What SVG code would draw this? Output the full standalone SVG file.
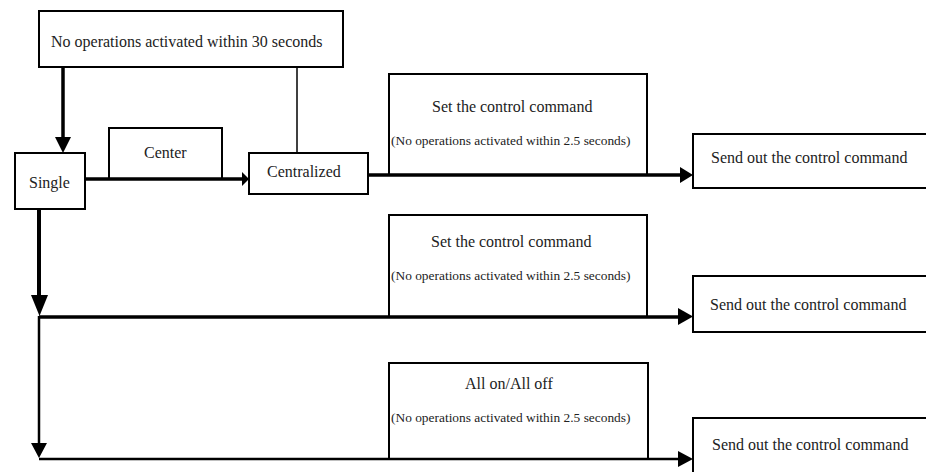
<svg xmlns="http://www.w3.org/2000/svg" width="926" height="472" viewBox="0 0 926 472">
<style>
.box{fill:#fff;stroke:#000;stroke-width:2}
.open{fill:none;stroke:#000;stroke-width:2}
text{font-family:'Liberation Serif','DejaVu Serif','Noto Serif',serif;fill:#222}
.t{font-size:16px}
.s{font-size:13.4px}
.ln{fill:none;stroke:#000}
.ah{fill:#000;stroke:none}
</style>
<rect width="926" height="472" fill="#fff"/>
<g id="connectors">
  <line class="ln" x1="63" y1="68" x2="63" y2="140" stroke-width="3.5"/>
  <polygon class="ah" points="55,137 71,137 63,153"/>
  <line class="ln" x1="297" y1="67" x2="297" y2="153" stroke-width="1.5"/>
  <line class="ln" x1="85" y1="179" x2="245" y2="179" stroke-width="3.5"/>
  <polygon class="ah" points="242,172 249,179 242,186"/>
  <line class="ln" x1="368" y1="175" x2="684" y2="175" stroke-width="3.5"/>
  <polygon class="ah" points="680,167 693,175 680,183"/>
  <line class="ln" x1="39" y1="209" x2="39" y2="298" stroke-width="4"/>
  <polygon class="ah" points="31,295 48,295 39.5,316"/>
  <line class="ln" x1="39" y1="316" x2="39" y2="446" stroke-width="2.5"/>
  <polygon class="ah" points="31,443 47,443 39,458"/>
  <line class="ln" x1="39" y1="317" x2="682" y2="317" stroke-width="3.5"/>
  <polygon class="ah" points="678,308 693,316.5 678,325"/>
  <line class="ln" x1="39" y1="459" x2="682" y2="459" stroke-width="2.5"/>
  <polygon class="ah" points="678,451 693,459 678,467"/>
</g>
<g id="timeout30">
  <rect class="box" x="39" y="11" width="304" height="56"/>
  <text class="t" x="51" y="47" font-family="Liberation Serif, serif">No operations activated within 30 seconds</text>
</g>
<g id="single">
  <rect class="box" x="15" y="153" width="70" height="56"/>
  <text class="t" x="29" y="188">Single</text>
</g>
<g id="center">
  <polyline class="open" points="109,179 109,128 222,128 222,179"/>
  <text class="t" x="144" y="158">Center</text>
</g>
<g id="centralized">
  <rect class="box" x="249" y="153" width="119" height="41"/>
  <text class="t" x="267" y="177">Centralized</text>
</g>
<g id="set1">
  <polyline class="open" points="389,175 389,74 647,74 647,175"/>
  <text class="t" x="432" y="112">Set the control command</text>
  <text class="s" x="391" y="145">(No operations activated within 2.5 seconds)</text>
</g>
<g id="send1">
  <rect class="box" x="693" y="134" width="250" height="54"/>
  <text class="t" x="711" y="163">Send out the control command</text>
</g>
<g id="set2">
  <polyline class="open" points="389,317 389,215 647,215 647,317"/>
  <text class="t" x="431" y="247">Set the control command</text>
  <text class="s" x="391" y="280">(No operations activated within 2.5 seconds)</text>
</g>
<g id="send2">
  <rect class="box" x="693" y="276" width="250" height="56"/>
  <text class="t" x="710" y="310">Send out the control command</text>
</g>
<g id="allonoff">
  <polyline class="open" points="389,459 389,363 648,363 648,459"/>
  <text class="t" x="465" y="389">All on/All off</text>
  <text class="s" x="391" y="422">(No operations activated within 2.5 seconds)</text>
</g>
<g id="send3">
  <rect class="box" x="693" y="418" width="250" height="70"/>
  <text class="t" x="712" y="450">Send out the control command</text>
</g>
</svg>
